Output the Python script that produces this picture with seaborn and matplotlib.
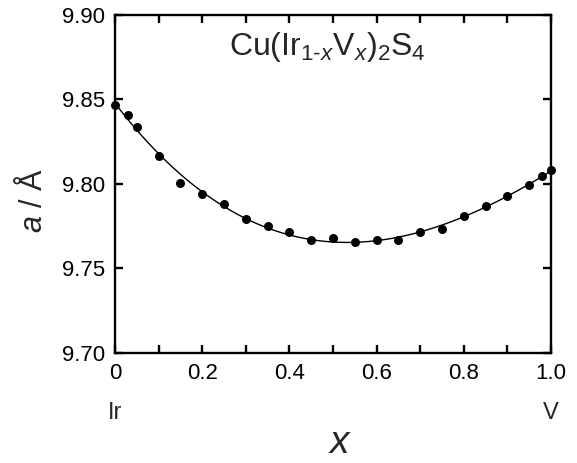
import numpy as np
import pandas as pd
import seaborn as sns
import matplotlib
matplotlib.use('Agg')
import matplotlib.pyplot as plt
from matplotlib.ticker import MultipleLocator

# lattice constant data
x_vals = [0.0, 0.03, 0.05, 0.1, 0.15, 0.2, 0.25, 0.3, 0.35, 0.4, 0.45, 0.5,
          0.55, 0.6, 0.65, 0.7, 0.75, 0.8, 0.85, 0.9, 0.95, 0.98, 1.0]
a_vals = [9.8467, 9.8410, 9.8340, 9.8167, 9.8008, 9.7940, 9.7880, 9.7790,
          9.7753, 9.7714, 9.7670, 9.7680, 9.7655, 9.7670, 9.7670, 9.7718,
          9.7732, 9.7810, 9.7868, 9.7927, 9.7996, 9.8047, 9.8083]
df = pd.DataFrame({'x': x_vals, 'a': a_vals})

sns.set_theme(style='ticks')
plt.rcParams['font.family'] = ['Liberation Sans', 'DejaVu Sans']
plt.rcParams['mathtext.fontset'] = 'custom'
plt.rcParams['mathtext.rm'] = 'Liberation Sans'
plt.rcParams['mathtext.it'] = 'Liberation Sans:italic'
plt.rcParams['mathtext.bf'] = 'Liberation Sans:bold'

fig = plt.figure(figsize=(5.77, 4.63), dpi=100)
ax = fig.add_axes([0.1993, 0.2376, 0.7557, 0.7300])

sns.regplot(data=df, x='x', y='a', order=3, ci=None, ax=ax,
            scatter_kws=dict(s=42, color='black', alpha=1, linewidths=0,
                             zorder=3, clip_on=False),
            line_kws=dict(color='black', lw=1.0))

ax.set_xlim(0, 1.0)
ax.set_ylim(9.70, 9.90)
ax.xaxis.set_major_locator(MultipleLocator(0.2))
ax.xaxis.set_minor_locator(MultipleLocator(0.1))
ax.yaxis.set_major_locator(MultipleLocator(0.05))
ax.set_xticks([0, 0.2, 0.4, 0.6, 0.8, 1.0])
ax.set_xticklabels(['0', '0.2', '0.4', '0.6', '0.8', '1.0'])
ax.set_yticklabels(['%.2f' % v for v in ax.get_yticks()])

ax.tick_params(which='both', direction='in', top=True, right=True,
               width=1.7, labelsize=16, colors='black')
ax.tick_params(which='major', length=6, pad=7)
ax.tick_params(which='minor', length=6)
for sp in ax.spines.values():
    sp.set_linewidth(1.7)
    sp.set_color('black')

ax.set_xlabel('')
ax.set_ylabel('')
ax.text(0.516, -0.266, '$x$', transform=ax.transAxes, fontsize=28,
        ha='center', va='center')
ax.text(-0.188, 0.45, '$a$ / Å', transform=ax.transAxes, fontsize=22,
        rotation=90, ha='center', va='center')
ax.text(0.0, -0.178, 'Ir', transform=ax.transAxes, fontsize=17,
        ha='center', va='center')
ax.text(1.0, -0.178, 'V', transform=ax.transAxes, fontsize=17,
        ha='center', va='center')
ax.text(0.486, 0.905, r'Cu(Ir$_{\mathrm{1}\text{-}x}$V$_x$)$_\mathrm{2}$S$_\mathrm{4}$',
        transform=ax.transAxes, fontsize=23, ha='center', va='center')

plt.savefig('out.png', dpi=100)
plt.close()
